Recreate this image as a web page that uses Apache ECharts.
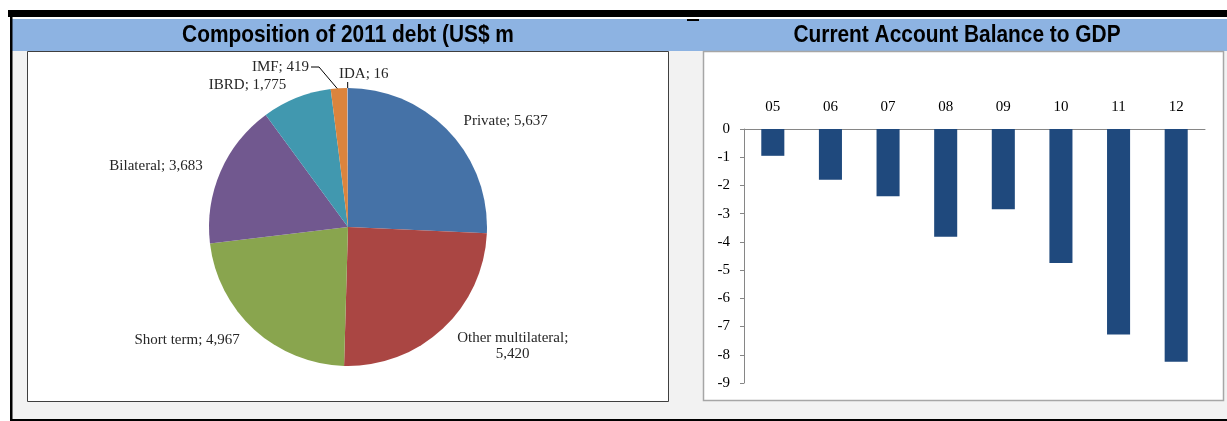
<!DOCTYPE html>
<html>
<head>
<meta charset="utf-8">
<script src="https://cdn.jsdelivr.net/npm/echarts@6/dist/echarts.min.js"></script>
<style>
  html, body { margin: 0; padding: 0; background: #fff; }
  #chart { width: 1227px; height: 421px; }
</style>
</head>
<body>
<div id="chart"></div>
<script>
// pie: composition of 2011 debt (US$ m)
var debtNames = ['Private', 'Other multilateral', 'Short term', 'Bilateral', 'IBRD', 'IMF', 'IDA'];
var debtValues = [5637, 5420, 4967, 3683, 1775, 419, 16];
var debtColors = ['#4572A7', '#AA4643', '#89A54E', '#71588F', '#4198AF', '#DB843D', '#93A9CF'];

// bars: current account balance to GDP
var years = ['05', '06', '07', '08', '09', '10', '11', '12'];
var caBalance = [-0.95, -1.8, -2.38, -3.82, -2.84, -4.75, -7.28, -8.25];

(function() {
  var serif = '"Liberation Serif", "Times New Roman", serif';
  var sans = '"Liberation Sans", Arial, sans-serif';
  var axisGray = '#868686';

  var chart = echarts.init(document.getElementById('chart'), null, { renderer: 'canvas' });

  var pieData = debtNames.map(function(n, i) {
    var item = { name: n, value: debtValues[i], itemStyle: { color: debtColors[i] } };
    if (i >= 5) item.labelLine = { show: true };
    return item;
  });

  // panel title, squeezed horizontally to look like Arial Narrow
  function panelTitle(text, cx) {
    return {
      type: 'text', x: cx, y: 35, scaleX: 0.87, z: 10,
      style: {
        text: text, align: 'center', verticalAlign: 'middle',
        font: 'bold 24px ' + sans, fill: '#000'
      }
    };
  }

  chart.setOption({
    animation: false,
    graphic: [
      { type: 'rect', shape: { x: 8, y: 10, width: 1219, height: 7 }, style: { fill: '#000' } },
      { type: 'rect', shape: { x: 12, y: 19, width: 1215, height: 32 }, style: { fill: '#8DB3E2' } },
      { type: 'rect', shape: { x: 687, y: 19, width: 12, height: 2 }, style: { fill: '#000' } },
      { type: 'rect', shape: { x: 12, y: 51, width: 1215, height: 369 }, style: { fill: '#F2F2F2' } },
      { type: 'rect', shape: { x: 10, y: 17, width: 2.5, height: 404 }, style: { fill: '#000' } },
      { type: 'rect', shape: { x: 10, y: 419, width: 1217, height: 2 }, style: { fill: '#000' } },
      { type: 'rect', shape: { x: 27.5, y: 51.5, width: 641, height: 350 }, style: { fill: '#fff', stroke: '#3f3f3f', lineWidth: 1 } },
      { type: 'rect', shape: { x: 703.5, y: 51.5, width: 520, height: 349 }, style: { fill: '#fff', stroke: '#a6a6a6', lineWidth: 1.5 } },
      panelTitle('Composition of 2011 debt (US$ m', 348),
      panelTitle('Current Account Balance to GDP', 957)
    ],
    grid: { left: 744, right: 22, top: 129, bottom: 38 },
    xAxis: {
      type: 'category',
      data: years,
      position: 'top',
      axisLine: { lineStyle: { color: axisGray } },
      axisTick: { length: 5, lineStyle: { color: axisGray } },
      axisLabel: { color: '#000', fontFamily: serif, fontSize: 15, margin: 14 }
    },
    yAxis: {
      type: 'value',
      min: -9, max: 0, interval: 1,
      axisLine: { show: true, lineStyle: { color: axisGray } },
      axisTick: { show: true, length: 4, lineStyle: { color: axisGray } },
      axisLabel: { color: '#000', fontFamily: serif, fontSize: 15, margin: 14 },
      splitLine: { show: false }
    },
    series: [
      {
        type: 'pie',
        center: [348, 227],
        radius: 139,
        startAngle: 90,
        clockwise: true,
        avoidLabelOverlap: false,
        data: pieData,
        label: {
          show: true,
          position: 'outside',
          fontFamily: serif,
          fontSize: 15,
          color: '#262626',
          lineHeight: 16,
          formatter: function(p) {
            var v = p.value.toLocaleString('en-US');
            return p.name === 'Other multilateral' ? p.name + ';\n' + v : p.name + '; ' + v;
          }
        },
        labelLine: { show: false, length: 14, length2: 0, lineStyle: { color: '#000', width: 1 } },
        labelLayout: function(p) {
          var r = p.rect;
          if (p.dataIndex === 1) {
            return { x: p.labelRect.x + p.labelRect.width / 2, align: 'center', dy: 7 };
          }
          if (p.dataIndex === 5) {
            return {
              x: 309, y: 67, align: 'right', verticalAlign: 'middle',
              labelLinePoints: [[r.x + r.width * 0.45, r.y + 2], [319, 67], [311, 67]]
            };
          }
          if (p.dataIndex === 6) {
            var cx = r.x + r.width / 2;
            return {
              x: 339, y: 74, align: 'left', verticalAlign: 'middle',
              labelLinePoints: [[cx, r.y], [cx, 82], [cx, 82]]
            };
          }
        },
        emphasis: { disabled: true }
      },
      {
        type: 'bar',
        data: caBalance,
        barWidth: '40%',
        itemStyle: { color: '#1F497D' }
      }
    ]
  });
  window.addEventListener('resize', function() { chart.resize(); });
})();
</script>
</body>
</html>
